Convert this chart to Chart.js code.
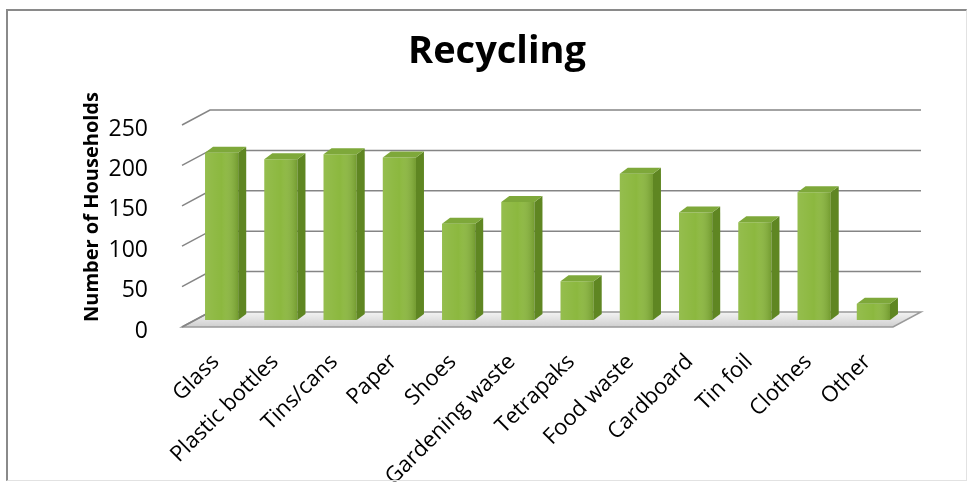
<!DOCTYPE html>
<html>
<head>
<meta charset="utf-8">
<script src="https://cdn.jsdelivr.net/npm/chart.js@4.4.1/dist/chart.umd.min.js"></script>
<style>
    html, body { margin: 0; padding: 0; background: #ffffff; }
    #wrap { position: relative; width: 974px; height: 487px; }
    #frame {
        position: absolute; left: 6px; top: 9px; width: 958px; height: 469px;
        border-left: 2px solid #8a8a8a; border-top: 2px solid #8a8a8a;
        border-right: 1px solid #e2e2e2; border-bottom: 1px solid #e2e2e2;
        pointer-events: none;
    }
</style>
</head>
<body>
<div id="wrap">
    <canvas id="recyclingChart" width="974" height="487"></canvas>
    <div id="frame"></div>
</div>
<script>
const categories = ['Glass', 'Plastic bottles', 'Tins/cans', 'Paper', 'Shoes', 'Gardening waste',
    'Tetrapaks', 'Food waste', 'Cardboard', 'Tin foil', 'Clothes', 'Other'];
const households = [207, 199, 205, 201, 119, 146, 48, 181, 133, 121, 158, 20];
const yTicks = [0, 50, 100, 150, 200, 250];
const yTitle = 'Number of Households';

const DEPTH_X = 28;   // back wall offset
const DEPTH_Y = 15;
const BAR_SHIFT_X = 10;  // bars sit half way into the floor
const BAR_SHIFT_Y = -7;

// back wall gridlines + floor, drawn before the bars
const wallPlugin = {
    id: 'wall3d',
    beforeDatasetsDraw(chart) {
        const { ctx, chartArea: a, scales: { y } } = chart;
        const base = y.getPixelForValue(0);
        ctx.save();
        // floor
        ctx.beginPath();
        ctx.moveTo(a.left, base);
        ctx.lineTo(a.left + DEPTH_X, base - DEPTH_Y);
        ctx.lineTo(a.right + DEPTH_X, base - DEPTH_Y);
        ctx.lineTo(a.right, base);
        ctx.closePath();
        const g = ctx.createLinearGradient(0, base - DEPTH_Y, 0, base);
        g.addColorStop(0, '#f4f4f4');
        g.addColorStop(1, '#cfcfcf');
        ctx.fillStyle = g;
        ctx.fill();
        ctx.strokeStyle = '#9a9a9a';
        ctx.lineWidth = 1.5;
        ctx.stroke();
        // gridlines
        ctx.strokeStyle = '#858585';
        ctx.lineWidth = 1.5;
        yTicks.forEach(v => {
            const py = y.getPixelForValue(v);
            ctx.beginPath();
            ctx.moveTo(a.left, py);
            ctx.lineTo(a.left + DEPTH_X, py - DEPTH_Y);
            if (v > 0) ctx.lineTo(a.right + DEPTH_X, py - DEPTH_Y);
            ctx.stroke();
        });
        ctx.restore();

        ctx.save();
        ctx.translate(BAR_SHIFT_X, BAR_SHIFT_Y);
    },
    afterDatasetsDraw(chart) {
        const { ctx } = chart;
        const meta = chart.getDatasetMeta(0);
        const d = 8, dh = 6;
        meta.data.forEach(bar => {
            const { x, y, base, width } = bar.getProps(['x', 'y', 'base', 'width'], true);
            const l = x - width / 2, r = x + width / 2;
            // right side
            ctx.beginPath();
            ctx.moveTo(r, y);
            ctx.lineTo(r + d, y - dh);
            ctx.lineTo(r + d, base - dh);
            ctx.lineTo(r, base);
            ctx.closePath();
            ctx.fillStyle = '#5f8622';
            ctx.fill();
            // top
            ctx.beginPath();
            ctx.moveTo(l, y);
            ctx.lineTo(l + d, y - dh);
            ctx.lineTo(r + d, y - dh);
            ctx.lineTo(r, y);
            ctx.closePath();
            ctx.fillStyle = '#7ea83a';
            ctx.fill();
            // front shading
            const sh = ctx.createLinearGradient(l, 0, r, 0);
            sh.addColorStop(0, 'rgba(255,255,255,0.08)');
            sh.addColorStop(0.5, 'rgba(255,255,255,0)');
            sh.addColorStop(1, 'rgba(40,70,0,0.25)');
            ctx.fillStyle = sh;
            ctx.fillRect(l, y, width, base - y);
        });
        ctx.restore();
    },
    // vertical axis title, placed like the original (left of the ticks)
    afterDraw(chart) {
        const { ctx } = chart;
        ctx.save();
        ctx.translate(92, 207);
        ctx.rotate(-Math.PI / 2);
        ctx.font = 'bold 20px "Open Sans"';
        ctx.fillStyle = '#000000';
        ctx.textAlign = 'center';
        ctx.textBaseline = 'middle';
        ctx.fillText(yTitle, 0, 0);
        ctx.restore();
    }
};

const ctx = document.getElementById('recyclingChart').getContext('2d');
new Chart(ctx, {
    type: 'bar',
    data: {
        labels: categories,
        datasets: [{
            label: yTitle,
            data: households,
            backgroundColor: '#8cb83f',
            borderWidth: 0,
            barPercentage: 0.56,
            categoryPercentage: 1
        }]
    },
    options: {
        responsive: false,
        animation: false,
        layout: { padding: { left: 101, right: 81, top: 0, bottom: 0 } },
        plugins: {
            legend: { display: false },
            tooltip: { enabled: false },
            title: {
                display: true,
                text: 'Recycling',
                color: '#000000',
                font: { family: 'Open Sans', size: 38, weight: 'bold', lineHeight: 1.2 },
                padding: { top: 29, bottom: 50.4 }
            }
        },
        scales: {
            x: {
                grid: { display: false },
                border: { display: false },
                afterFit: s => { s.height = 160; },
                ticks: {
                    color: '#000000',
                    font: { family: 'Open Sans', size: 22 },
                    minRotation: 45,
                    maxRotation: 45,
                    padding: 14,
                    labelOffset: 4
                }
            },
            y: {
                min: 0,
                max: 250,
                grid: { display: false },
                border: { display: false },
                afterFit: s => { s.width = 81; },
                afterBuildTicks: s => { s.ticks = yTicks.map(v => ({ value: v })); },
                ticks: {
                    color: '#000000',
                    font: { family: 'Open Sans', size: 23 },
                    padding: 26,
                    labelOffset: 4
                }
            }
        }
    },
    plugins: [wallPlugin]
});
</script>
</body>
</html>
